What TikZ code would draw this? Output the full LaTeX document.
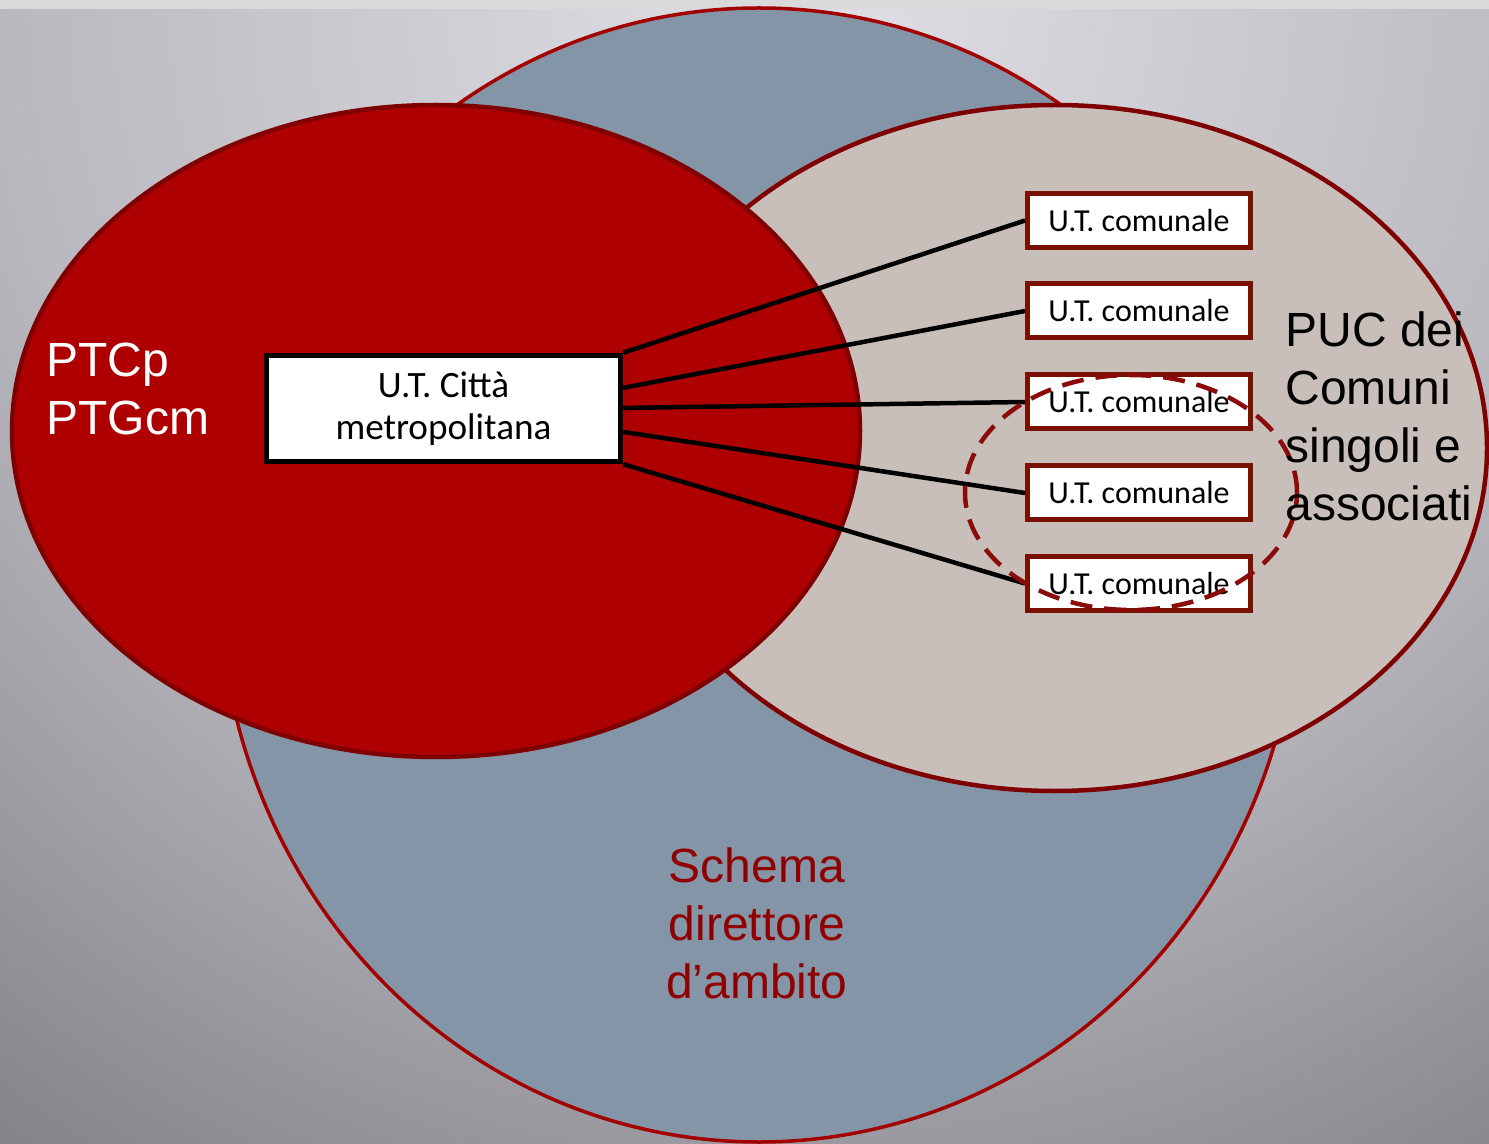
\documentclass[tikz,border=0pt]{standalone}
\usepackage{fontspec}
\setmainfont{Liberation Sans}
\newfontfamily\boxfont{Carlito}
\usetikzlibrary{calc}
\definecolor{bgA}{HTML}{E0E0E6}
\definecolor{bgB}{HTML}{B8B8BE}
\definecolor{bgC}{HTML}{7E7E84}
\definecolor{topstrip}{HTML}{DADADA}
\definecolor{bluefill}{HTML}{8595A8}
\definecolor{blueedge}{HTML}{A30000}
\definecolor{beigefill}{HTML}{C9BFBA}
\definecolor{redfill}{HTML}{AE0000}
\definecolor{darkedge}{HTML}{7F0000}
\definecolor{boxedge}{HTML}{7A1000}
\definecolor{dashred}{HTML}{8B0A0A}
\definecolor{schemared}{HTML}{900000}
\pgfdeclareradialshading{bgshade}{\pgfpoint{0bp}{0bp}}{color(0bp)=(bgA); color(13.8bp)=(bgB); color(25bp)=(bgC); color(50bp)=(bgC)}
\begin{document}
\begin{tikzpicture}[x=0.5pt,y=-0.5pt,
  mainbox/.style={draw=black, fill=white, line width=2.75pt, minimum width=177pt, minimum height=53pt, inner sep=0pt, align=center, font=\boxfont\fontsize{18.6}{20.8}\selectfont},
  combox/.style={draw=boxedge, fill=white, line width=2.5pt, minimum width=111.5pt, minimum height=27pt, inner sep=0pt, font=\boxfont\fontsize{16}{18}\selectfont},
  conn/.style={draw=black, line width=2.25pt},
  biglabel/.style={inner sep=0pt, font=\fontsize{24}{29}\selectfont},
  dashell/.style={draw=dashred, line width=2.25pt, dash pattern=on 11pt off 6pt}]
\useasboundingbox (0,0) rectangle (1489,1144);
\begin{scope}
  \clip (0,0) rectangle (1489,1144);
  \shade[shading=bgshade] (800,0) circle[radius=725pt];
  \fill[topstrip] (0,0) rectangle (1489,9);
\end{scope}
% circles
\draw[line width=1.75pt, draw=blueedge, fill=bluefill] (759,575) ellipse [x radius=270pt, y radius=283.5pt];
\draw[line width=2.25pt, draw=darkedge, fill=beigefill] (1055,448) ellipse [x radius=216pt, y radius=171.5pt];
\draw[line width=2.25pt, draw=darkedge, fill=redfill] (436,431) ellipse [x radius=212pt, y radius=163pt];
% boxes
\node[mainbox] (m) at (443.5,408.5) {\raisebox{-1.5pt}{U.T. Città}\\\raisebox{-1.5pt}{metropolitana}};
\node[combox] (c1) at (1139,220.5) {U.T. comunale};
\node[combox] (c2) at (1139,311) {U.T. comunale};
\node[combox] (c3) at (1139,402) {U.T. comunale};
\node[combox] (c4) at (1139,493) {U.T. comunale};
\node[combox] (c5) at (1139,583.5) {U.T. comunale};
% connectors
\draw[conn] (m.north east) -- (c1.west);
\draw[conn] ($(m.north east)!0.315!(m.south east)$) -- (c2.west);
\draw[conn] ($(m.north east)!0.495!(m.south east)$) -- (c3.west);
\draw[conn] ($(m.north east)!0.71!(m.south east)$) -- (c4.west);
\draw[conn] (m.south east) -- (c5.west);
% dashed ellipse
\draw[dashell] (1131,492.5) ellipse [x radius=83pt, y radius=58.75pt];
% labels
\node[biglabel, text=white, anchor=base west] (ptc) at (46,377) {\begin{tabular}[t]{@{}l@{}}PTCp\\PTGcm\end{tabular}};
\node[biglabel, text=black, anchor=base west] (puc) at (1285,347) {\begin{tabular}[t]{@{}l@{}}PUC dei\\Comuni\\singoli e\\associati\end{tabular}};
\node[biglabel, text=schemared, anchor=base] (sch) at (757,882) {\begin{tabular}[t]{@{}c@{}}Schema\\direttore\\d’ambito\end{tabular}};
\end{tikzpicture}
\end{document}
